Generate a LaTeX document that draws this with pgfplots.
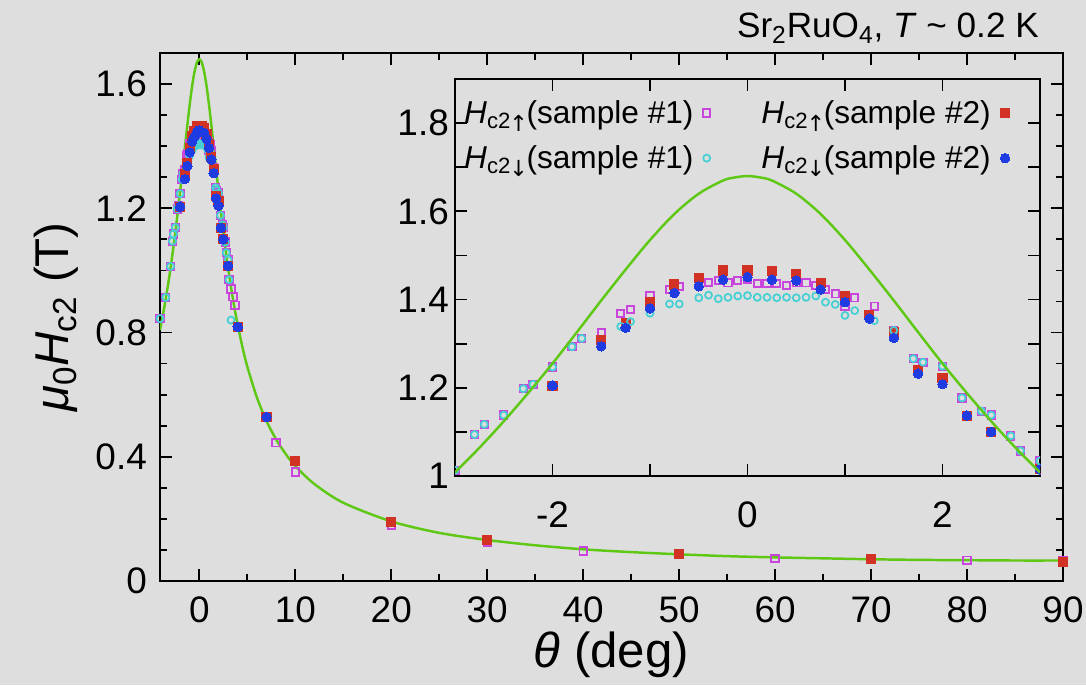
\documentclass[border=0pt]{standalone}
\usepackage{pgfplots}
\pgfplotsset{compat=1.18}
\usepackage{pgfplotstable}
\usepackage{fontspec}
\setmainfont{Liberation Sans}
\newfontfamily\dejavu{DejaVu Sans}
\definecolor{bg}{RGB}{222,222,222}
\definecolor{cmag}{RGB}{200,70,220}
\definecolor{ccyan}{RGB}{70,208,212}
\definecolor{cred}{RGB}{210,50,35}
\definecolor{cblue}{RGB}{30,60,225}
\definecolor{cgreen}{RGB}{95,200,20}
\newcommand{\arr}[1]{\hspace{-0.05em}\raisebox{-0.25ex}{\dejavu #1}\hspace{-0.1em}}

\pgfplotstableread{
t h
-4.1 0.845
-3.5 0.913
-3.0 1.013
-2.8 1.094
-2.7 1.117
-2.5 1.138
-2.3 1.198
-2.2 1.208
-2.0 1.247
-1.8 1.293
-1.7 1.312
-1.5 1.325
-1.3 1.368
-1.2 1.377
-1.0 1.408
-0.8 1.423
-0.7 1.430
-0.4 1.439
-0.3 1.443
-0.2 1.438
-0.1 1.443
0.0 1.445
0.1 1.436
0.2 1.436
0.3 1.436
0.4 1.432
0.5 1.438
0.6 1.438
0.7 1.432
0.8 1.423
0.9 1.413
1.0 1.385
1.1 1.404
1.3 1.385
1.5 1.330
1.7 1.266
1.8 1.258
2.0 1.249
2.2 1.177
2.4 1.147
2.5 1.138
2.7 1.091
2.8 1.057
3.0 1.034
3.1 0.970
3.3 0.940
3.5 0.915
3.7 0.888
8 0.445
10 0.351
20 0.180
30 0.126
40 0.097
60 0.072
80 0.067
90 0.067
}\magdata

\pgfplotstableread{
t h
-4.1 0.845
-3.5 0.913
-3.0 1.013
-2.8 1.094
-2.7 1.117
-2.5 1.138
-2.3 1.198
-2.2 1.208
-2.0 1.247
-1.8 1.293
-1.7 1.312
-1.3 1.339
-1.2 1.350
-1.0 1.369
-0.8 1.390
-0.7 1.390
-0.5 1.404
-0.4 1.410
-0.3 1.402
-0.2 1.405
-0.1 1.408
0.0 1.409
0.1 1.405
0.2 1.405
0.3 1.404
0.4 1.405
0.5 1.404
0.6 1.405
0.7 1.408
0.8 1.394
0.9 1.389
1.0 1.364
1.1 1.375
1.3 1.352
1.5 1.330
1.7 1.266
1.8 1.258
2.0 1.249
2.2 1.177
2.4 1.147
2.5 1.138
2.7 1.091
2.8 1.057
3.0 1.034
3.1 0.970
3.3 0.840
}\cyandata

\pgfplotstableread{
t h
-2.0 1.205
-1.5 1.309
-1.25 1.347
-1.0 1.395
-0.75 1.434
-0.5 1.449
-0.25 1.466
0 1.466
0.25 1.464
0.5 1.458
0.75 1.438
1.0 1.408
1.25 1.365
1.5 1.326
1.75 1.240
2.0 1.223
2.25 1.137
2.5 1.100
3.0 1.015
4.0 0.818
7 0.528
10 0.386
20 0.190
30 0.133
50 0.088
70 0.071
90 0.061
}\reddata

\pgfplotstableread{
t h
-2.0 1.205
-1.5 1.294
-1.25 1.336
-1.0 1.380
-0.75 1.415
-0.5 1.430
-0.25 1.445
0 1.451
0.25 1.445
0.5 1.443
0.75 1.423
1.0 1.394
1.25 1.357
1.5 1.313
1.75 1.232
2.0 1.208
2.25 1.137
2.5 1.100
3.0 1.015
4.0 0.818
7 0.528
}\bluedata

\pgfplotstableread{
t h
-4.1 0.808
-4.0 0.824
-3.75 0.864
-3.5 0.909
-3.25 0.956
-3.0 1.008
-2.75 1.064
-2.5 1.124
-2.25 1.188
-2.0 1.255
-1.75 1.326
-1.5 1.398
-1.25 1.468
-1.0 1.535
-0.75 1.594
-0.5 1.640
-0.25 1.670
-0.125 1.677
0 1.680
0.125 1.677
0.25 1.670
0.5 1.640
0.75 1.594
1.0 1.535
1.25 1.468
1.5 1.398
1.75 1.326
2.0 1.255
2.25 1.188
2.5 1.124
2.75 1.064
3.0 1.008
3.25 0.956
3.5 0.909
3.75 0.864
4.0 0.824
4.5 0.752
5 0.690
6 0.591
7 0.515
8 0.456
9 0.409
10 0.370
12 0.312
15 0.252
20 0.192
25 0.155
30 0.132
35 0.115
40 0.102
45 0.093
50 0.086
55 0.080
60 0.076
65 0.073
70 0.070
75 0.068
80 0.067
85 0.066
90 0.066
}\curvedata

\pgfplotsset{
  mystyle/.style={
    scale only axis,
    tick align=inside,
    major tick length=0.24cm,
    minor tick length=0.14cm,
    axis line style={line width=1.1pt},
    every tick/.style={black, line width=1pt},
    tick label style={font=\fontsize{21}{24}\selectfont},
    /pgf/number format/assume math mode=true,
  },
  magst/.style={only marks, mark=square, mark size=2.1pt, mark options={draw=cmag, line width=1.1pt, fill=none}},
  cyanst/.style={only marks, mark=o, mark size=2.0pt, mark options={draw=ccyan, line width=1.0pt, fill=none}},
  redst/.style={only marks, mark=square*, mark size=2.6pt, mark options={draw=cred, fill=cred, line width=0pt}},
  bluest/.style={only marks, mark=*, mark size=2.7pt, mark options={draw=cblue, fill=cblue, line width=0pt}},
  curvest/.style={no marks, smooth, color=cgreen, line width=1.4pt},
}

\begin{document}
\begin{tikzpicture}
\fill[bg] (0,0) rectangle (21.72cm,13.7cm);
\useasboundingbox (0,0) rectangle (21.72cm,13.7cm);

\begin{axis}[mystyle,
  at={(3.2cm,2.08cm)}, anchor=south west,
  width=18.06cm, height=10.56cm,
  xmin=-4.1, xmax=90, ymin=0, ymax=1.7,
  xtick={0,10,20,30,40,50,60,70,80,90},
  minor xtick={5,15,25,35,45,55,65,75,85},
  ytick={0,0.4,0.8,1.2,1.6},
  yticklabels={0,0.4,0.8,1.2,1.6},
  minor ytick={0.1,0.2,0.3,0.5,0.6,0.7,0.9,1.0,1.1,1.3,1.4,1.5,1.7},
  xticklabel style={yshift=-0.2cm},
  yticklabel style={xshift=-0.14cm},
  xlabel={\textit{θ} (deg)},
  ylabel={\textit{μ}\textsubscript{0}\textit{H}\textsubscript{c2} (T)},
  xlabel style={font=\fontsize{28}{32}\selectfont, yshift=0.08cm},
  ylabel style={font=\fontsize{27}{32}\selectfont, yshift=0.1cm},
]
\addplot[magst] table[x=t,y=h] {\magdata};
\addplot[cyanst] table[x=t,y=h] {\cyandata};
\addplot[redst] table[x=t,y=h] {\reddata};
\addplot[bluest] table[x=t,y=h] {\bluedata};
\addplot[curvest] table[x=t,y=h] {\curvedata};
\end{axis}

\node[anchor=base east, font=\fontsize{20}{24}\selectfont] at (20.9cm,12.94cm)
  {Sr\textsubscript{2}RuO\textsubscript{4}, \textit{T} \textasciitilde{} 0.2 K};

\begin{axis}[mystyle,
  at={(9.1cm,4.18cm)}, anchor=south west,
  width=11.7cm, height=7.94cm,
  axis background/.style={fill=bg},
  xmin=-3, xmax=3, ymin=1, ymax=1.9,
  xtick={-3,-2,-1,0,1,2,3},
  xticklabels={,-2,,0,,2,},
  xticklabel style={yshift=-0.4cm},
  ytick={1,1.1,1.2,1.3,1.4,1.5,1.6,1.7,1.8,1.9},
  yticklabels={1,,1.2,,1.4,,1.6,,1.8,},
  clip marker paths=true,
  restrict x to domain=-3.2:3.2,
  legend columns=2,
  legend plot pos=right,
  legend cell align=left,
  legend style={at={(0.0,0.965)}, anchor=north west, draw=none, fill=none,
    font=\fontsize{18}{22}\selectfont,
    row sep=0.25cm,
    /tikz/every even column/.append style={column sep=0.95cm}},
]
\addplot[magst] table[x=t,y=h] {\magdata};
\addlegendentry{\textit{H}\textsubscript{c2\arr{↑}}(sample \#1)\hspace*{0.12cm}}
\addplot[redst] table[x=t,y=h] {\reddata};
\addlegendentry{\textit{H}\textsubscript{c2\arr{↑}}(sample \#2)\hspace*{0.12cm}}
\addplot[cyanst] table[x=t,y=h] {\cyandata};
\addlegendentry{\textit{H}\textsubscript{c2\arr{↓}}(sample \#1)\hspace*{0.12cm}}
\addplot[bluest] table[x=t,y=h] {\bluedata};
\addlegendentry{\textit{H}\textsubscript{c2\arr{↓}}(sample \#2)\hspace*{0.12cm}}
\addplot[curvest, forget plot] table[x=t,y=h] {\curvedata};
\end{axis}
\end{tikzpicture}
\end{document}
